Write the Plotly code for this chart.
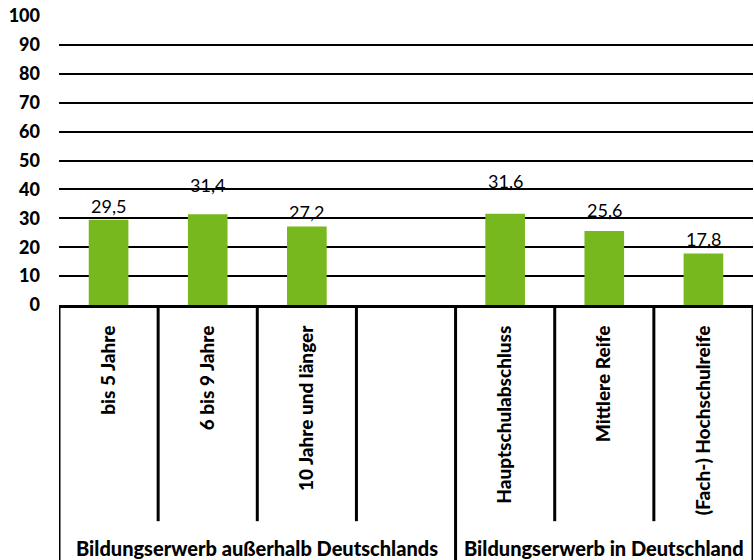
import plotly.graph_objects as go

# Kategorien (vierte Position bleibt als Abstand leer)
categories = ["bis 5 Jahre", "6 bis 9 Jahre", "10 Jahre und länger", " ",
              "Hauptschulabschluss", "Mittlere Reife", "(Fach-) Hochschulreife"]
values = [29.5, 31.4, 27.2, None, 31.6, 25.6, 17.8]
groups = ["Bildungserwerb außerhalb Deutschlands", "Bildungserwerb in Deutschland"]
y_ticks = [0, 10, 20, 30, 40, 50, 60, 70, 80, 90, 100]

# vertical offset (px) of each value label above its bar
label_shift = [14, 29, 14, 0, 33, 21, 15]

FONT = "Lato"
GREEN = "#77b81e"

fig = go.Figure()
fig.add_trace(go.Bar(
    x=list(range(len(categories))),
    y=values,
    width=0.4,
    marker=dict(color=GREEN, line=dict(width=0)),
    hoverinfo="skip",
))

# value labels
for i, v in enumerate(values):
    if v is None:
        continue
    fig.add_annotation(
        x=i, y=v, xref="x", yref="y",
        text=f"{v:.1f}".replace(".", ","),
        showarrow=False, yanchor="middle", yshift=label_shift[i],
        font=dict(family=FONT, size=18, color="#000000"),
    )

# separators between categories below the axis
n = len(categories)
for k in range(n + 1):
    xb = k - 0.5
    outer = k in (0, 4, n)
    fig.add_shape(
        type="line", xref="x", yref="paper",
        x0=xb, x1=xb, y0=0, y1=-0.9 if outer else -0.748,
        line=dict(color="#000000", width=3),
        layer="above",
    )

# group labels
group_centers = [1.5, 5.0]
for g, xc in zip(groups, group_centers):
    fig.add_annotation(
        x=xc, y=-0.842, xref="x", yref="paper",
        text=g, showarrow=False, yanchor="middle",
        font=dict(family=FONT, size=20, color="#000000", weight=900),
    )

fig.update_layout(
    width=754, height=560,
    margin=dict(l=59, r=1, t=16, b=255),
    paper_bgcolor="white", plot_bgcolor="white",
    showlegend=False,
    bargap=0.6,
)
fig.update_xaxes(
    range=[-0.5, n - 0.5],
    tickmode="array",
    tickvals=list(range(n)),
    ticktext=categories,
    tickangle=-90,
    ticks="",
    ticklabelstandoff=10,
    tickfont=dict(family=FONT, size=19, color="#000000", weight=900),
    showgrid=False, zeroline=False,
    showline=True, linecolor="#000000", linewidth=3,
)
fig.update_yaxes(
    range=[0, 100],
    tickmode="array",
    tickvals=y_ticks,
    ticktext=[str(t) for t in y_ticks],
    tickfont=dict(family=FONT, size=18, color="#000000", weight=900),
    showgrid=True, gridcolor="#000000", gridwidth=2,
    zeroline=False, showline=False, ticks="",
    ticklabelstandoff=18,
)

fig.write_html("out.html")
